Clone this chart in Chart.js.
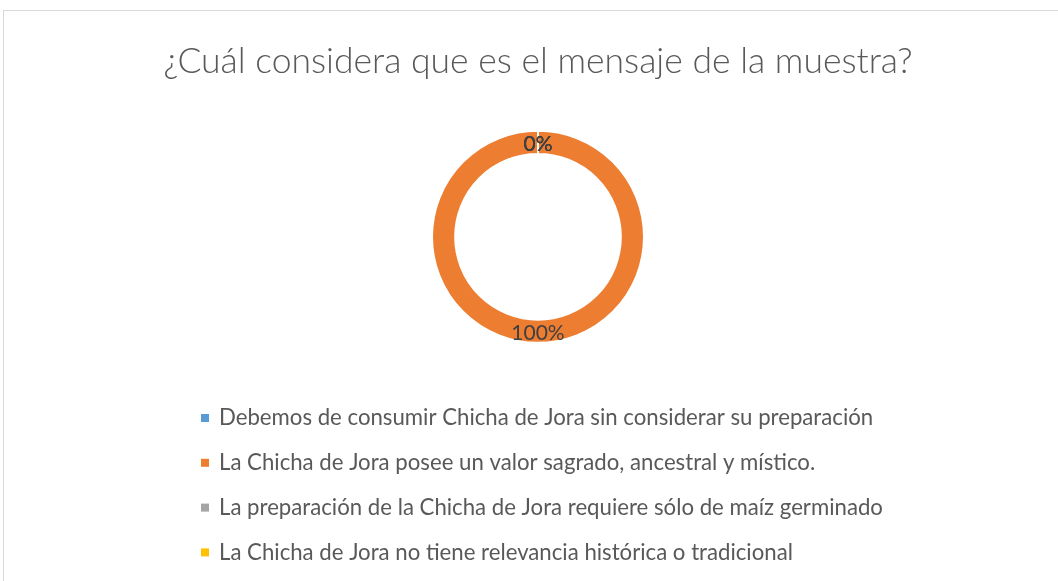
<!DOCTYPE html>
<html>
<head>
<meta charset="utf-8">
<script src="https://cdn.jsdelivr.net/npm/chart.js@4"></script>
<style>
  html, body { margin: 0; padding: 0; background: #fff; }
  #wrap { position: relative; width: 1058px; height: 581px; overflow: hidden; }
  #frame { position: absolute; left: 3px; top: 10px; width: 1070px; height: 600px; border: 1px solid #d9d9d9; box-sizing: border-box; }
  canvas { position: absolute; left: 0; top: 0; }
</style>
</head>
<body>
<div id="wrap">
  <div id="frame"></div>
  <canvas id="chart" width="1058" height="581"></canvas>
</div>
<script>
// chart data
const categories = [
    'Debemos de consumir Chicha de Jora sin considerar su preparación',
    'La Chicha de Jora posee un valor sagrado, ancestral y místico.',
    'La preparación de la Chicha de Jora requiere sólo de maíz germinado',
    'La Chicha de Jora no tiene relevancia histórica o tradicional'
];
const percentValues = [0, 100, 0, 0];
const sliceColors = ['#5B9BD5', '#ED7D31', '#A5A5A5', '#FFC000'];

const FONT = 'Lato, "Open Sans", sans-serif';

// percentage labels at the middle of each ring slice
const sliceLabels = {
    id: 'sliceLabels',
    afterDatasetsDraw(chart) {
        const ctx = chart.ctx;
        const meta = chart.getDatasetMeta(0);
        ctx.save();
        ctx.font = '21px ' + FONT;
        ctx.fillStyle = '#404040';
        ctx.textAlign = 'center';
        ctx.textBaseline = 'middle';
        meta.data.forEach((arc, i) => {
            const pos = arc.tooltipPosition();
            ctx.fillText(percentValues[i] + '%', pos.x, pos.y + 2);
        });
        ctx.restore();
    }
};

// vertical legend, left aligned under the ring
const listLegend = {
    id: 'listLegend',
    afterDraw(chart) {
        const ctx = chart.ctx;
        const x0 = 201, y0 = 418, step = 44.8, box = 8;
        ctx.save();
        ctx.font = '22.2px ' + FONT;
        ctx.textBaseline = 'middle';
        ctx.textAlign = 'left';
        categories.forEach((label, i) => {
            const y = y0 + i * step;
            ctx.fillStyle = sliceColors[i];
            ctx.fillRect(x0, y - box / 2, box, box);
            ctx.fillStyle = '#595959';
            ctx.fillText(label, x0 + 18, y);
        });
        ctx.restore();
    }
};

new Chart(document.getElementById('chart'), {
    type: 'doughnut',
    data: {
        labels: categories,
        datasets: [{
            data: percentValues,
            backgroundColor: sliceColors,
            borderColor: '#ffffff',
            borderWidth: 2,
        }]
    },
    options: {
        responsive: false,
        animation: false,
        radius: 106,
        cutout: 83,
        layout: { padding: { left: 18, right: 0, top: 0, bottom: 237 } },
        plugins: {
            legend: { display: false },
            tooltip: { enabled: false },
            title: {
                display: true,
                text: '¿Cuál considera que es el mensaje de la muestra?',
                color: '#595959',
                font: { family: FONT, size: 35.5, weight: '300' },
                padding: { top: 40, bottom: 47 }
            }
        }
    },
    plugins: [sliceLabels, listLegend]
});
</script>
</body>
</html>
